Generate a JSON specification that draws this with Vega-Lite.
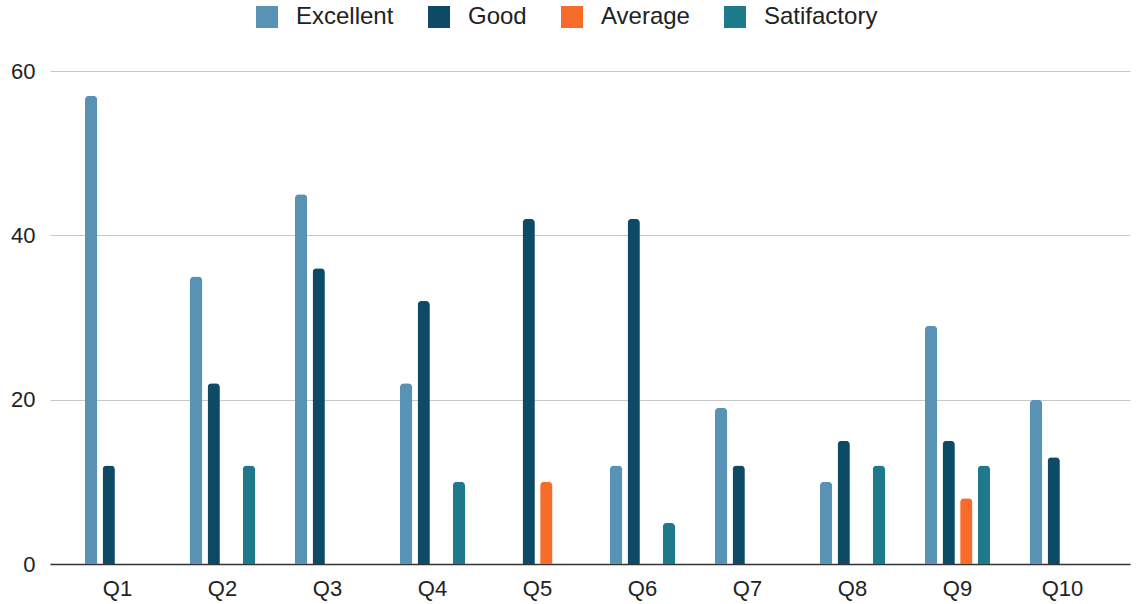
{
  "$schema": "https://vega.github.io/schema/vega-lite/v6.json",
  "width": 1080,
  "height": 493,
  "autosize": {"type": "none"},
  "padding": {"left": 50, "top": 71, "right": 6, "bottom": 40},
  "background": "white",
  "config": {
    "view": {"stroke": null},
    "font": "Liberation Sans"
  },
  "data": {
    "values": [
      {"q": "Q1", "rating": "Excellent", "count": 57},
      {"q": "Q1", "rating": "Good", "count": 12},
      {"q": "Q2", "rating": "Excellent", "count": 35},
      {"q": "Q2", "rating": "Good", "count": 22},
      {"q": "Q2", "rating": "Satifactory", "count": 12},
      {"q": "Q3", "rating": "Excellent", "count": 45},
      {"q": "Q3", "rating": "Good", "count": 36},
      {"q": "Q4", "rating": "Excellent", "count": 22},
      {"q": "Q4", "rating": "Good", "count": 32},
      {"q": "Q4", "rating": "Satifactory", "count": 10},
      {"q": "Q5", "rating": "Good", "count": 42},
      {"q": "Q5", "rating": "Average", "count": 10},
      {"q": "Q6", "rating": "Excellent", "count": 12},
      {"q": "Q6", "rating": "Good", "count": 42},
      {"q": "Q6", "rating": "Satifactory", "count": 5},
      {"q": "Q7", "rating": "Excellent", "count": 19},
      {"q": "Q7", "rating": "Good", "count": 12},
      {"q": "Q8", "rating": "Excellent", "count": 10},
      {"q": "Q8", "rating": "Good", "count": 15},
      {"q": "Q8", "rating": "Satifactory", "count": 12},
      {"q": "Q9", "rating": "Excellent", "count": 29},
      {"q": "Q9", "rating": "Good", "count": 15},
      {"q": "Q9", "rating": "Average", "count": 8},
      {"q": "Q9", "rating": "Satifactory", "count": 12},
      {"q": "Q10", "rating": "Excellent", "count": 20},
      {"q": "Q10", "rating": "Good", "count": 13}
    ]
  },
  "mark": {"type": "bar", "cornerRadiusTopLeft": 4, "cornerRadiusTopRight": 4},
  "encoding": {
    "x": {
      "field": "q",
      "type": "nominal",
      "sort": ["Q1", "Q2", "Q3", "Q4", "Q5", "Q6", "Q7", "Q8", "Q9", "Q10"],
      "scale": {"paddingInner": 0.38, "paddingOuter": 0.333},
      "axis": {
        "title": null,
        "labelAngle": 0,
        "labelFontSize": 22,
        "labelColor": "#222222",
        "labelPadding": 14,
        "ticks": false,
        "domainColor": "#333333",
        "domainWidth": 1.5,
        "grid": false
      }
    },
    "xOffset": {
      "field": "rating",
      "type": "nominal",
      "sort": ["Excellent", "Good", "Average", "Satifactory"],
      "scale": {"paddingInner": 0.3, "paddingOuter": 0.0}
    },
    "y": {
      "field": "count",
      "type": "quantitative",
      "scale": {"domain": [0, 60]},
      "axis": {
        "title": null,
        "values": [0, 20, 40, 60],
        "labelFontSize": 22,
        "labelColor": "#222222",
        "labelPadding": 15,
        "ticks": false,
        "domain": false,
        "gridColor": "#c8c8c8",
        "gridWidth": 1.2
      }
    },
    "color": {
      "field": "rating",
      "type": "nominal",
      "sort": ["Excellent", "Good", "Average", "Satifactory"],
      "scale": {
        "domain": ["Excellent", "Good", "Average", "Satifactory"],
        "range": ["#5892b4", "#0c4a66", "#f76b2b", "#1e7a8b"]
      },
      "legend": {
        "title": null,
        "orient": "none",
        "legendX": 205,
        "legendY": -66,
        "padding": 0,
        "direction": "horizontal",
        "symbolType": "square",
        "symbolSize": 484,
        "symbolStrokeWidth": 0,
        "labelFontSize": 24,
        "labelColor": "#222222",
        "labelOffset": 17,
        "columnPadding": 33
      }
    }
  }
}
